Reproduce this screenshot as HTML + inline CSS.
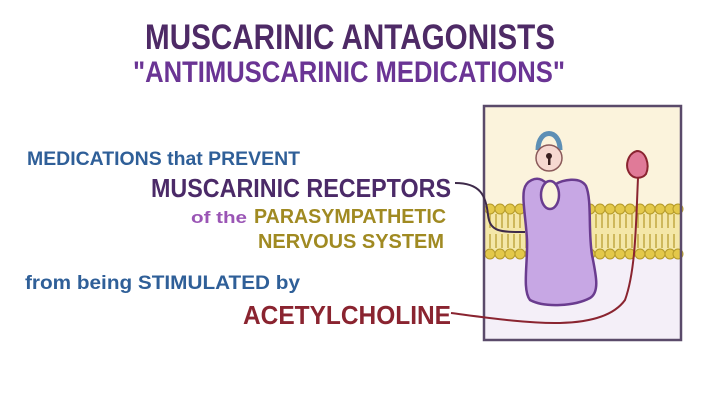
<!DOCTYPE html>
<html><head><meta charset="utf-8"><style>
html,body{margin:0;padding:0;background:#fff;width:720px;height:404px;overflow:hidden}
svg{display:block}
text{font-family:"Liberation Sans",sans-serif;font-weight:bold}
</style></head><body>
<svg width="720" height="404" viewBox="0 0 720 404">
<text x="145" y="49" font-size="35" fill="#4e2a66" textLength="410" lengthAdjust="spacingAndGlyphs">MUSCARINIC ANTAGONISTS</text>
<text x="133" y="82" font-size="30" fill="#6a3494" textLength="432" lengthAdjust="spacingAndGlyphs">"ANTIMUSCARINIC MEDICATIONS"</text>

<text x="27" y="165" font-size="19" fill="#2f5f98" textLength="273" lengthAdjust="spacingAndGlyphs">MEDICATIONS that PREVENT</text>
<text x="151" y="197" font-size="26" fill="#4b2a68" textLength="300" lengthAdjust="spacingAndGlyphs">MUSCARINIC RECEPTORS</text>
<text x="191" y="223" font-size="17" fill="#9a55b5" textLength="56" lengthAdjust="spacingAndGlyphs">of the</text>
<text x="254" y="223" font-size="20" fill="#a08a22" textLength="192" lengthAdjust="spacingAndGlyphs">PARASYMPATHETIC</text>
<text x="258" y="248" font-size="20" fill="#a08a22" textLength="186" lengthAdjust="spacingAndGlyphs">NERVOUS SYSTEM</text>
<text x="25" y="289" font-size="19" fill="#2f5f98" textLength="275" lengthAdjust="spacingAndGlyphs">from being STIMULATED by</text>
<text x="243" y="324" font-size="26" fill="#8a2430" textLength="208" lengthAdjust="spacingAndGlyphs">ACETYLCHOLINE</text>

<rect x="484" y="106" width="197" height="234" fill="#fbf3dc"/>
<rect x="484" y="255" width="197" height="85" fill="#f4eff8"/>
<rect x="484" y="207" width="197" height="50" fill="#f4e7a8"/>
<g stroke="#b49a2a" stroke-width="1.2">
<path d="M490 214v14M496 214v14M502 214v14M508 214v14M514 214v14M520 214v14M526 214v14M596 214v14M602 214v14M608 214v14M614 214v14M620 214v14M626 214v14M632 214v14M638 214v14M644 214v14M650 214v14M656 214v14M662 214v14M668 214v14M674 214v14
M490 234v14M496 234v14M502 234v14M508 234v14M514 234v14M520 234v14M526 234v14M596 234v14M602 234v14M608 234v14M614 234v14M620 234v14M626 234v14M632 234v14M638 234v14M644 234v14M650 234v14M656 234v14M662 234v14M668 234v14M674 234v14"/>
</g>
<g fill="#e3c84a" stroke="#b49a2a" stroke-width="1">
<circle cx="490" cy="209" r="5"/><circle cx="500" cy="209" r="5"/><circle cx="510" cy="209" r="5"/><circle cx="520" cy="209" r="5"/><circle cx="530" cy="209" r="5"/><circle cx="540" cy="209" r="5"/><circle cx="550" cy="209" r="5"/><circle cx="560" cy="209" r="5"/><circle cx="570" cy="209" r="5"/><circle cx="580" cy="209" r="5"/><circle cx="590" cy="209" r="5"/><circle cx="600" cy="209" r="5"/><circle cx="610" cy="209" r="5"/><circle cx="620" cy="209" r="5"/><circle cx="630" cy="209" r="5"/><circle cx="640" cy="209" r="5"/><circle cx="650" cy="209" r="5"/><circle cx="660" cy="209" r="5"/><circle cx="670" cy="209" r="5"/><circle cx="678" cy="209" r="5"/>
<circle cx="490" cy="254" r="5"/><circle cx="500" cy="254" r="5"/><circle cx="510" cy="254" r="5"/><circle cx="520" cy="254" r="5"/><circle cx="530" cy="254" r="5"/><circle cx="540" cy="254" r="5"/><circle cx="550" cy="254" r="5"/><circle cx="560" cy="254" r="5"/><circle cx="570" cy="254" r="5"/><circle cx="580" cy="254" r="5"/><circle cx="590" cy="254" r="5"/><circle cx="600" cy="254" r="5"/><circle cx="610" cy="254" r="5"/><circle cx="620" cy="254" r="5"/><circle cx="630" cy="254" r="5"/><circle cx="640" cy="254" r="5"/><circle cx="650" cy="254" r="5"/><circle cx="660" cy="254" r="5"/><circle cx="670" cy="254" r="5"/><circle cx="678" cy="254" r="5"/>
</g>
<rect x="484" y="106" width="197" height="234" fill="none" stroke="#5a4a6a" stroke-width="2.5"/>

<path d="M455 183 C480 183 486 195 488 215 C490 232 500 232 525 232" fill="none" stroke="#3e2a4a" stroke-width="2"/>
<path d="M451 313 C520 322 600 335 625 300 C636 270 636 220 638 178" fill="none" stroke="#8a2430" stroke-width="2"/>
<path d="M637 151 C628 153 624 166 630 174 C634 179 642 179 646 174 C650 165 646 151 637 151Z" fill="#e07a98" stroke="#8a2430" stroke-width="2"/>

<path d="M524 190 C526 180 536 177 542 180 C548 184 552 186 556 184 C562 180 580 176 586 186 C592 200 588 230 592 255 C596 275 600 292 590 298 C575 306 545 308 530 300 C522 290 528 262 527 240 C526 220 522 200 524 190Z" fill="#c7a7e4" stroke="#6a3c8f" stroke-width="2.5"/>
<ellipse cx="550" cy="195" rx="9" ry="14" fill="#fbf3dc" stroke="#6a3c8f" stroke-width="2.5"/>
<path d="M538 150 C538 128 560 128 560 150" fill="none" stroke="#5d8fb5" stroke-width="5"/>
<circle cx="549" cy="158" r="13" fill="#f6d8d0" stroke="#8a5a5a" stroke-width="1.5"/>
<circle cx="549" cy="156" r="3" fill="#3a2020"/><rect x="548" y="157" width="2.5" height="8" fill="#3a2020"/>
</svg>
</body></html>
